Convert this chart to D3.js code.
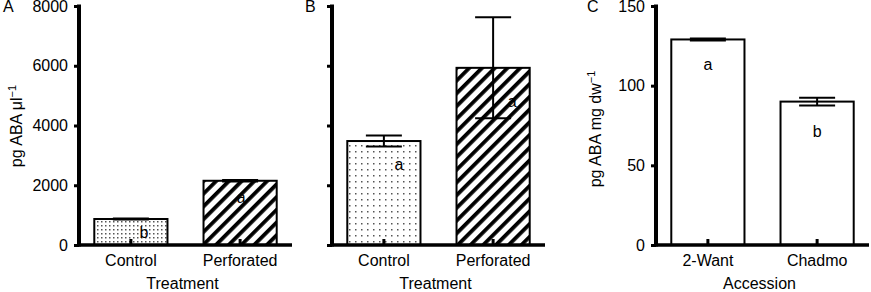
<!DOCTYPE html>
<html>
<head>
<meta charset="utf-8">
<script src="https://cdn.jsdelivr.net/npm/d3@7"></script>
<style>
  body { margin: 0; background: #fff; }
  svg { display: block; font-family: "Liberation Sans", Arial, Helvetica, sans-serif; }
</style>
</head>
<body>
<div id="chart-area"></div>
<script>
// panel A: exudate ABA
const treatments = ["Control", "Perforated"];
const exudateABA = [870, 2150];
const exudateSE = [15, 25];
const exudateLetters = ["b", "a"];

// panel B: same treatments, second tissue
const tissueABA = [3480, 5930];
const tissueSE = [185, 1690];
const tissueLetters = ["a", "a"];

// panel C: accessions
const accessions = ["2-Want", "Chadmo"];
const accessionABA = [129, 90];
const accessionSE = [0.6, 2.4];
const accessionLetters = ["a", "b"];

const ticksAB = [0, 2000, 4000, 6000, 8000];
const ticksC = [0, 50, 100, 150];

const width = 871;
const height = 292;

const svg = d3.select('#chart-area')
    .append('svg')
    .attr('width', width)
    .attr('height', height);

const defs = svg.append('defs');

// dotted fill (finer in A than in B)
[["dotsA", 4], ["dotsB", 6]].forEach(([id, s]) => {
    const p = defs.append('pattern')
        .attr('id', id)
        .attr('patternUnits', 'userSpaceOnUse')
        .attr('width', s)
        .attr('height', s);
    p.append('rect').attr('width', s).attr('height', s).attr('fill', '#fff');
    p.append('rect').attr('x', 1).attr('y', 1).attr('width', 1.5).attr('height', 1.5).attr('fill', '#555');
});

// diagonal hatching
const hatch = defs.append('pattern')
    .attr('id', 'hatch')
    .attr('patternUnits', 'userSpaceOnUse')
    .attr('width', 9)
    .attr('height', 9)
    .attr('patternTransform', 'rotate(45)');
hatch.append('rect').attr('width', 9).attr('height', 9).attr('fill', '#fff');
hatch.append('rect').attr('x', 0).attr('y', 0).attr('width', 3.8).attr('height', 9).attr('fill', '#000');

const yTop = 6, yBottom = 245;

function drawPanel(p) {
    const g = svg.append('g');

    const x = d3.scaleBand()
        .domain(p.cats)
        .range([p.x0, p.x0 + 213])
        .paddingInner(0.33)
        .paddingOuter(0.14);

    const y = d3.scaleLinear()
        .domain([0, p.max])
        .range([yBottom, yTop]);

    // bars
    g.selectAll('rect.bar')
        .data(p.values)
        .enter()
        .append('rect')
        .attr('class', 'bar')
        .attr('x', (d, i) => x(p.cats[i]))
        .attr('y', d => y(d))
        .attr('width', x.bandwidth())
        .attr('height', d => yBottom - y(d))
        .attr('fill', (d, i) => p.fills[i])
        .attr('stroke', '#000')
        .attr('stroke-width', 2);

    // error bars
    const cap = 18;
    p.values.forEach((v, i) => {
        const cx = x(p.cats[i]) + x.bandwidth() / 2;
        const lo = y(v - p.se[i]), hi = y(v + p.se[i]);
        const eg = g.append('g').attr('stroke', '#000').attr('stroke-width', 2);
        eg.append('line').attr('x1', cx).attr('x2', cx).attr('y1', lo).attr('y2', hi);
        eg.append('line').attr('x1', cx - cap).attr('x2', cx + cap).attr('y1', hi).attr('y2', hi);
        eg.append('line').attr('x1', cx - cap).attr('x2', cx + cap).attr('y1', lo).attr('y2', lo);
    });

    // significance letters
    g.selectAll('text.letter')
        .data(p.letters)
        .enter()
        .append('text')
        .attr('class', 'letter')
        .attr('x', (d, i) => x(p.cats[i]) + x.bandwidth() / 2 + p.letterPos[i][0])
        .attr('y', (d, i) => y(p.values[i]) + p.letterPos[i][1])
        .attr('text-anchor', 'middle')
        .attr('font-size', 16)
        .attr('fill', '#000')
        .text(d => d);

    // x axis, ticks pointing in
    const xAxis = d3.axisBottom(x)
        .tickSizeInner(-6)
        .tickSizeOuter(0)
        .tickPadding(10);
    const gx = g.append('g')
        .attr('transform', `translate(0, ${yBottom})`)
        .call(xAxis);
    gx.select('.domain').remove();
    gx.selectAll('.tick line').attr('stroke', '#000').attr('stroke-width', 3);
    gx.selectAll('.tick text').attr('font-size', 16).attr('fill', '#000');
    g.append('line')
        .attr('x1', p.x0 - 1.5).attr('x2', p.x0 + 213)
        .attr('y1', yBottom).attr('y2', yBottom)
        .attr('stroke', '#000').attr('stroke-width', 3.5);

    // y axis
    const yAxis = d3.axisLeft(y)
        .tickValues(p.ticks)
        .tickSizeInner(5)
        .tickSizeOuter(0)
        .tickPadding(6)
        .tickFormat(p.labels ? d3.format('d') : '');
    const gy = g.append('g')
        .attr('transform', `translate(${p.x0}, 0)`)
        .call(yAxis);
    gy.select('.domain').remove();
    gy.selectAll('.tick line').attr('stroke', '#000').attr('stroke-width', 3);
    gy.selectAll('.tick text').attr('font-size', 16).attr('fill', '#000');
    g.append('line')
        .attr('x1', p.x0).attr('x2', p.x0)
        .attr('y1', yTop - 1.5).attr('y2', yBottom + 1.5)
        .attr('stroke', '#000').attr('stroke-width', 4);

    // axis titles
    g.append('text')
        .attr('x', p.x0 + 213 / 2 - 3)
        .attr('y', 289)
        .attr('text-anchor', 'middle')
        .attr('font-size', 16)
        .text(p.xTitle);

    if (p.yTitle) {
        const t = g.append('text')
            .attr('transform', `translate(${p.yTitleX}, ${p.yTitleY}) rotate(-90)`)
            .attr('text-anchor', 'middle')
            .attr('font-size', 16);
        t.append('tspan').text(p.yTitle);
        t.append('tspan').attr('dy', -6).attr('font-size', 11).text('\u22121');
    }

    // panel letter
    g.append('text')
        .attr('x', p.tagX)
        .attr('y', 12)
        .attr('font-size', 16)
        .text(p.tag);
}

drawPanel({
    tag: 'A', tagX: 3, x0: 79, cats: treatments, values: exudateABA, se: exudateSE,
    letters: exudateLetters, letterPos: [[13, 19], [1, 22]],
    fills: ['url(#dotsA)', 'url(#hatch)'], max: 8000, ticks: ticksAB, labels: true,
    xTitle: 'Treatment', yTitle: 'pg ABA \u03bcl', yTitleX: 21.5, yTitleY: 126
});

drawPanel({
    tag: 'B', tagX: 305, x0: 332, cats: treatments, values: tissueABA, se: tissueSE,
    letters: tissueLetters, letterPos: [[15, 29], [19, 39]],
    fills: ['url(#dotsB)', 'url(#hatch)'], max: 8000, ticks: ticksAB, labels: false,
    xTitle: 'Treatment', yTitle: null
});

drawPanel({
    tag: 'C', tagX: 587, x0: 656, cats: accessions, values: accessionABA, se: accessionSE,
    letters: accessionLetters, letterPos: [[0, 31], [0, 35]],
    fills: ['#fff', '#fff'], max: 150, ticks: ticksC, labels: true,
    xTitle: 'Accession', yTitle: 'pg ABA mg dw', yTitleX: 601, yTitleY: 129
});
</script>
</body>
</html>
